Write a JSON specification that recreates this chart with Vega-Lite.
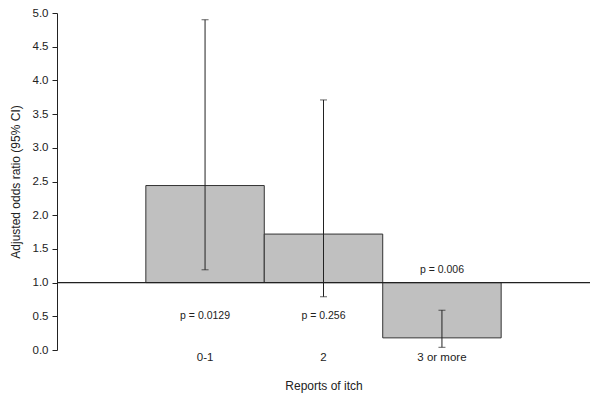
{
  "$schema": "https://vega.github.io/schema/vega-lite/v6.json",
  "width": 533,
  "height": 337,
  "autosize": "none",
  "padding": {"left": 57, "top": 13, "right": 10, "bottom": 50},
  "background": "white",
  "config": {"view": {"stroke": null}, "font": "Liberation Sans",
    "axisY": {"tickCount": 10, "format": ".1f", "grid": false, "labelOverlap": false, "domainColor": "#222", "tickColor": "#222", "tickSize": 5,
      "labelFontSize": 11.5, "labelColor": "#222", "labelPadding": 4,
      "titleFontSize": 12, "titleFontWeight": "normal", "titleColor": "#222", "titlePadding": 10}},
  "data": {"values": [
    {"cat": "0-1", "or": 2.44, "lo": 1.19, "hi": 4.9, "p": "p = 0.0129", "py": 0.5},
    {"cat": "2", "or": 1.72, "lo": 0.79, "hi": 3.71, "p": "p = 0.256", "py": 0.5},
    {"cat": "3 or more", "or": 0.18, "lo": 0.04, "hi": 0.59, "p": "p = 0.006", "py": 1.19}
  ]},
  "encoding": {
    "x": {"field": "cat", "type": "nominal", "sort": null,
      "scale": {"paddingInner": 0, "paddingOuter": 0.75},
      "axis": {"title": "Reports of itch", "labelAngle": 0, "domain": false, "ticks": false,
        "labelFontSize": 11.5, "labelColor": "#222", "labelPadding": 1,
        "titleFontSize": 12, "titleFontWeight": "normal", "titleColor": "#222", "titlePadding": 18}}
  },
  "layer": [
    {"mark": {"type": "bar", "fill": "#c0c0c0", "stroke": "#333", "strokeWidth": 1},
     "encoding": {
       "y": {"field": "or", "type": "quantitative", "scale": {"domain": [0, 5], "nice": false},
         "title": "Adjusted odds ratio (95% CI)"},
       "y2": {"datum": 1}
     }},
    {"mark": {"type": "rule", "color": "#222", "strokeWidth": 1},
     "encoding": {"y": {"field": "lo", "type": "quantitative", "title": "Adjusted odds ratio (95% CI)"}, "y2": {"field": "hi"}}},
    {"mark": {"type": "tick", "color": "#222", "size": 7, "thickness": 1, "orient": "horizontal"},
     "encoding": {"y": {"field": "lo", "type": "quantitative", "title": "Adjusted odds ratio (95% CI)"}}},
    {"mark": {"type": "tick", "color": "#222", "size": 7, "thickness": 1, "orient": "horizontal"},
     "encoding": {"y": {"field": "hi", "type": "quantitative", "title": "Adjusted odds ratio (95% CI)"}}},
    {"mark": {"type": "rule", "color": "#222", "strokeWidth": 1},
     "encoding": {"y": {"datum": 1, "title": "Adjusted odds ratio (95% CI)"}, "x": {"value": 0}, "x2": {"value": 533}}},
    {"mark": {"type": "text", "fontSize": 10.5, "color": "#222"},
     "encoding": {"y": {"field": "py", "type": "quantitative", "title": "Adjusted odds ratio (95% CI)"}, "text": {"field": "p"}}}
  ]
}
